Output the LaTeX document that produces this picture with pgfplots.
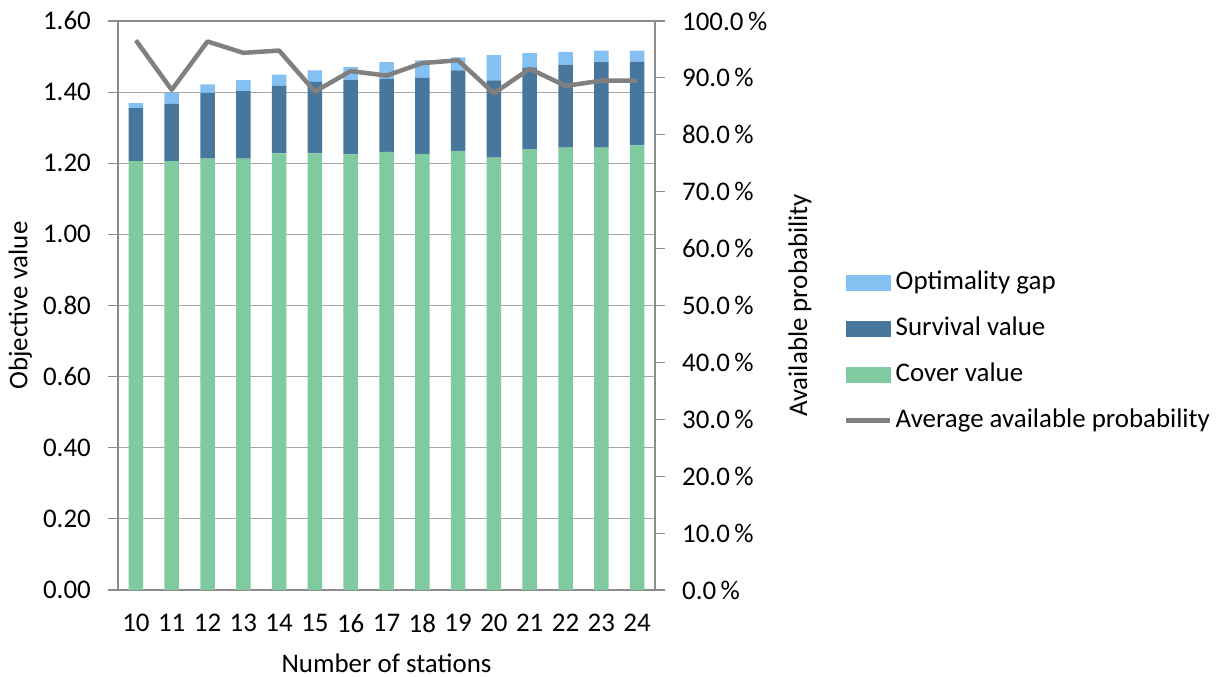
\documentclass[border=0pt]{standalone}
\usepackage{pgfplots}
\pgfplotsset{compat=1.18}
\usepackage{pgfplotstable}
\usepackage{fontspec}
\setmainfont{Carlito}

\definecolor{gapblue}{HTML}{85C0F2}
\definecolor{survblue}{HTML}{48779E}
\definecolor{covergreen}{HTML}{7FCA9E}
\definecolor{probgray}{HTML}{808080}
\definecolor{gridgray}{HTML}{A6A6A6}
\definecolor{axisgray}{HTML}{8C8C8C}

% stations, cover value, survival value, optimality gap, average available probability (%)
\pgfplotstableread{
n  cover  surv   gap    prob
10 1.206  0.149  0.014  96.6
11 1.206  0.161  0.031  87.9
12 1.213  0.185  0.024  96.4
13 1.213  0.190  0.031  94.4
14 1.228  0.190  0.031  94.8
15 1.228  0.201  0.032  87.6
16 1.225  0.209  0.037  91.2
17 1.232  0.206  0.046  90.4
18 1.226  0.214  0.049  92.6
19 1.235  0.226  0.037  93.1
20 1.216  0.217  0.071  87.3
21 1.240  0.228  0.042  91.6
22 1.244  0.233  0.036  88.6
23 1.244  0.240  0.033  89.5
24 1.250  0.236  0.031  89.5
}\data

\begin{document}
\begin{tikzpicture}
\useasboundingbox (0,0) rectangle (1228bp,677bp);
\pgfplotsset{
  common/.style={
    at={(118bp,87bp)}, anchor=south west,
    scale only axis, width=537bp, height=569bp,
    xmin=9.5, xmax=24.5,
    font=\fontsize{27}{32}\selectfont,
    /pgf/number format/assume math mode=true,
    axis line style={axisgray, line width=1.1pt},
    tick style={axisgray, line width=1.1pt},
    tick align=outside,
  }
}
\begin{axis}[
  common,
  ybar stacked, bar width=14.5bp,
  ymin=0, ymax=1.6, ytick={0,0.2,...,1.61},
  ytick pos=left, major tick length=10bp,
  yticklabel={\pgfmathprintnumber[fixed,fixed zerofill,precision=2]{\tick}},
  yticklabel style={anchor=east, inner sep=0pt, xshift=-17bp},
  xtick={10,...,24}, xtick pos=bottom,
  x tick style={draw=none},
  minor xtick={9.5,10.5,...,24.5},
  minor x tick style={axisgray, line width=1.1pt},
  minor tick length=8bp,
  xticklabel style={inner sep=0pt, yshift=-14bp},
  ymajorgrids, grid style={gridgray, line width=1pt},
  xlabel={Number of stations},
  ylabel={Objective value},
  every axis x label/.style={at={(axis description cs:0.5,-0.128)}, anchor=center},
  every axis y label/.style={at={(axis description cs:-0.182,0.5)}, rotate=90, anchor=center},
]
\addplot[fill=covergreen, draw=none] table[x=n, y=cover] {\data};
\addplot[fill=survblue, draw=none] table[x=n, y=surv] {\data};
\addplot[fill=gapblue, draw=none] table[x=n, y=gap] {\data};
\end{axis}

\begin{axis}[
  common,
  axis x line=none,
  axis y line*=right,
  ymin=0, ymax=100, ytick={0,10,...,100},
  major tick length=10bp,
  yticklabel={\pgfmathprintnumber[fixed,fixed zerofill,precision=1]{\tick}\,\%},
  yticklabel style={anchor=west, inner sep=0pt, xshift=17bp},
  ylabel={Available probability},
  every axis y label/.style={at={(axis description cs:1.27,0.5)}, rotate=90, anchor=center},
  legend style={
    at={(axis description cs:1.3464,0.566)}, anchor=north west,
    draw=none, fill=none, row sep=21bp,
    nodes={inner xsep=3bp, inner ysep=0pt, text height=19bp, text depth=6bp},
    font=\fontsize{27}{32}\selectfont,
  },
  legend cell align=left,
]
\addlegendimage{legend image code/.code={\fill[gapblue] (0bp,-7.5bp) rectangle (44bp,7.5bp);}}
\addlegendentry{Optimality gap}
\addlegendimage{legend image code/.code={\fill[survblue] (0bp,-7.5bp) rectangle (44bp,7.5bp);}}
\addlegendentry{Survival value}
\addlegendimage{legend image code/.code={\fill[covergreen] (0bp,-7.5bp) rectangle (44bp,7.5bp);}}
\addlegendentry{Cover value}
\addplot[probgray, line width=4.5bp, line join=round, mark=none,
  legend image code/.code={\draw[probgray, line width=4.5bp] (0bp,0bp) -- (44bp,0bp);}]
  table[x=n, y=prob] {\data};
\addlegendentry{Average available probability}
\end{axis}
\end{tikzpicture}
\end{document}
